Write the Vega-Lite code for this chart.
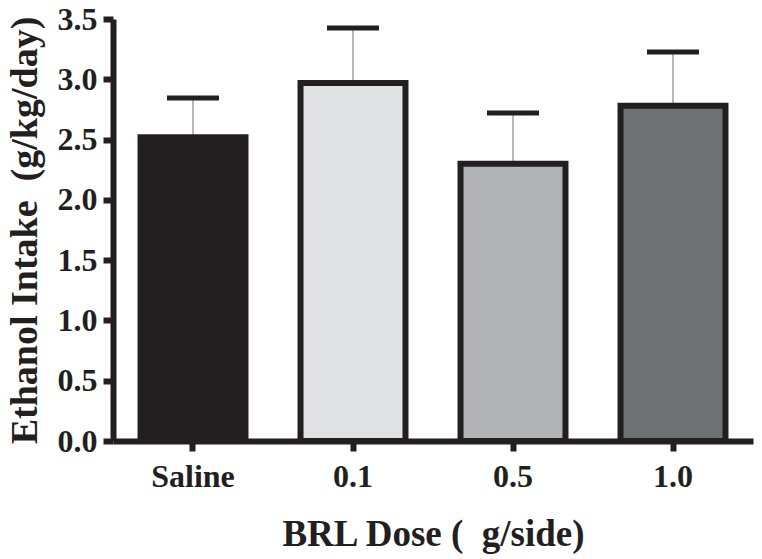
{
  "$schema": "https://vega.github.io/schema/vega-lite/v6.json",
  "width": 640,
  "height": 422,
  "autosize": "none",
  "padding": {"left": 113, "top": 19, "right": 9, "bottom": 118},
  "background": "white",
  "config": {"view": {"stroke": null}},
  "data": {
    "values": [
      {"dose": "Saline", "mean": 2.52, "upper": 2.845},
      {"dose": "0.1", "mean": 2.97, "upper": 3.425},
      {"dose": "0.5", "mean": 2.3, "upper": 2.72},
      {"dose": "1.0", "mean": 2.78, "upper": 3.226}
    ]
  },
  "encoding": {
    "x": {
      "field": "dose",
      "type": "nominal",
      "sort": ["Saline", "0.1", "0.5", "1.0"],
      "scale": {"paddingInner": 0.344, "paddingOuter": 0.172},
      "axis": {
        "title": "BRL Dose (\u00a0\u00a0g/side)",
        "labelAngle": 0,
        "labelFont": "Liberation Serif",
        "labelFontWeight": "bold",
        "labelFontSize": 32,
        "labelColor": "#231f20",
        "labelPadding": 10,
        "tickSize": 10,
        "tickWidth": 6,
        "tickColor": "#231f20",
        "domainColor": "#231f20",
        "domainWidth": 6,
        "titleFont": "Liberation Serif",
        "titleFontWeight": "bold",
        "titleFontSize": 37,
        "titleColor": "#231f20",
        "titleBaseline": "alphabetic",
        "titleX": 320,
        "titleY": 104
      }
    }
  },
  "layer": [
    {
      "mark": {"type": "rule", "color": "#8a8a8a", "strokeWidth": 1.2},
      "encoding": {
        "y": {"field": "mean", "type": "quantitative"},
        "y2": {"field": "upper"}
      }
    },
    {
      "mark": {"type": "bar", "stroke": "#231f20", "strokeWidth": 6},
      "encoding": {
        "y": {
          "field": "mean",
          "type": "quantitative",
          "scale": {"domain": [0, 3.5], "nice": false},
          "axis": {
            "title": "Ethanol Intake\u00a0\u00a0(g/kg/day)",
            "values": [0, 0.5, 1, 1.5, 2, 2.5, 3, 3.5],
            "format": ".1f",
            "grid": false,
            "labelFont": "Liberation Serif",
            "labelFontWeight": "bold",
            "labelFontSize": 32,
            "labelColor": "#231f20",
            "labelPadding": 6,
            "tickSize": 10,
            "tickWidth": 6,
            "tickColor": "#231f20",
            "domainColor": "#231f20",
            "domainWidth": 6,
            "titleFont": "Liberation Serif",
            "titleFontWeight": "bold",
            "titleFontSize": 38,
            "titleColor": "#231f20",
            "titleAngle": -90,
            "titleAlign": "center",
            "titleBaseline": "middle",
            "titleX": -88,
            "titleY": 211
          }
        },
        "color": {
          "field": "dose",
          "type": "nominal",
          "scale": {
            "domain": ["Saline", "0.1", "0.5", "1.0"],
            "range": ["#231f20", "#e1e2e3", "#b2b3b6", "#6f7273"]
          },
          "legend": null
        }
      }
    },
    {
      "mark": {"type": "tick", "color": "#231f20", "size": 52, "thickness": 5, "opacity": 1},
      "encoding": {
        "y": {"field": "upper", "type": "quantitative"}
      }
    }
  ]
}
